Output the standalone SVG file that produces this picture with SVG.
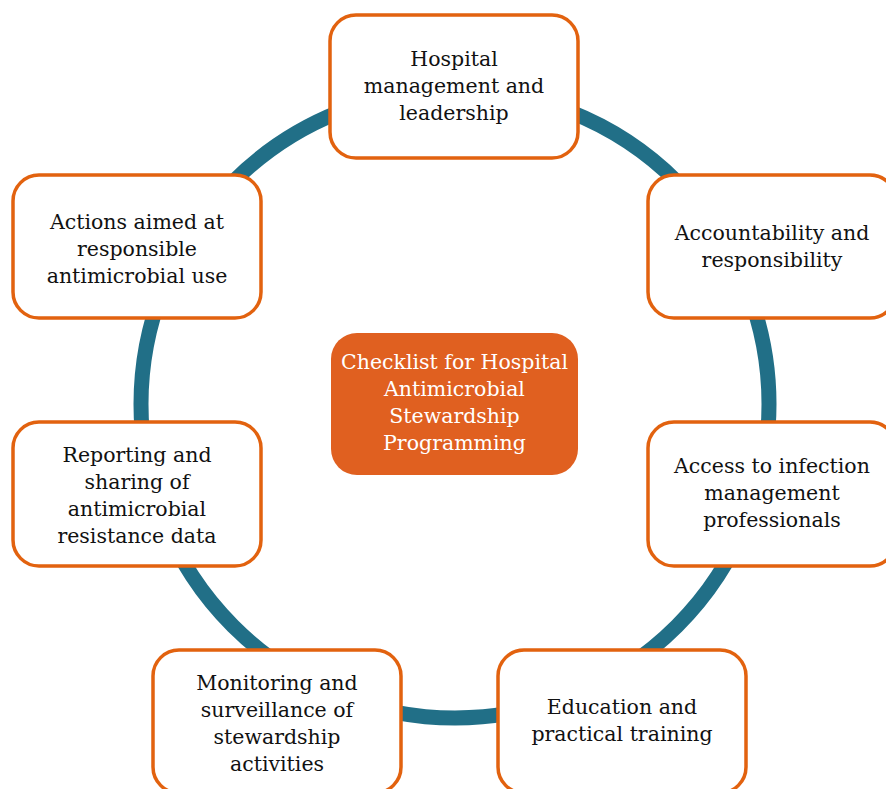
<svg xmlns="http://www.w3.org/2000/svg" width="886" height="789" viewBox="0 0 886 789">
<style>
.box{fill:#ffffff;stroke:#E2620F;stroke-width:3.5}
.hub{fill:#E06020;stroke:none}
.t{font-family:"DejaVu Serif","Liberation Serif",serif;font-size:20.5px;text-anchor:middle;fill:#111111}
.w{fill:#ffffff}
.ring{fill:none;stroke:#216F87;stroke-width:15}
</style>
<rect width="886" height="789" fill="#ffffff"/>
<g id="connectors">
<circle class="ring" cx="455" cy="404" r="314"/>
</g>
<g id="center">
<rect class="hub" x="331" y="333" width="247" height="142" rx="26"/>
<text class="t w"><tspan x="454.5" y="369">Checklist for Hospital</tspan><tspan x="454.5" y="396">Antimicrobial</tspan><tspan x="454.5" y="423">Stewardship</tspan><tspan x="454.5" y="450">Programming</tspan></text>
</g>
<g id="n-top">
<rect class="box" x="330" y="15" width="248" height="143" rx="26"/>
<text class="t"><tspan x="454" y="66">Hospital</tspan><tspan x="454" y="93">management and</tspan><tspan x="454" y="120">leadership</tspan></text>
</g>
<g id="n-accountability">
<rect class="box" x="648" y="175" width="248" height="143" rx="26"/>
<text class="t"><tspan x="772" y="240">Accountability and</tspan><tspan x="772" y="267">responsibility</tspan></text>
</g>
<g id="n-access">
<rect class="box" x="648" y="422" width="248" height="144" rx="26"/>
<text class="t"><tspan x="772" y="473">Access to infection</tspan><tspan x="772" y="500">management</tspan><tspan x="772" y="527">professionals</tspan></text>
</g>
<g id="n-education">
<rect class="box" x="498" y="650" width="248" height="143" rx="26"/>
<text class="t"><tspan x="622" y="714">Education and</tspan><tspan x="622" y="741">practical training</tspan></text>
</g>
<g id="n-monitoring">
<rect class="box" x="153" y="650" width="248" height="143" rx="26"/>
<text class="t"><tspan x="277" y="690">Monitoring and</tspan><tspan x="277" y="717">surveillance of</tspan><tspan x="277" y="744">stewardship</tspan><tspan x="277" y="771">activities</tspan></text>
</g>
<g id="n-reporting">
<rect class="box" x="13" y="422" width="248" height="144" rx="26"/>
<text class="t"><tspan x="137" y="462">Reporting and</tspan><tspan x="137" y="489">sharing of</tspan><tspan x="137" y="516">antimicrobial</tspan><tspan x="137" y="543">resistance data</tspan></text>
</g>
<g id="n-actions">
<rect class="box" x="13" y="175" width="248" height="143" rx="26"/>
<text class="t"><tspan x="137" y="229">Actions aimed at</tspan><tspan x="137" y="256">responsible</tspan><tspan x="137" y="283">antimicrobial use</tspan></text>
</g>
</svg>
